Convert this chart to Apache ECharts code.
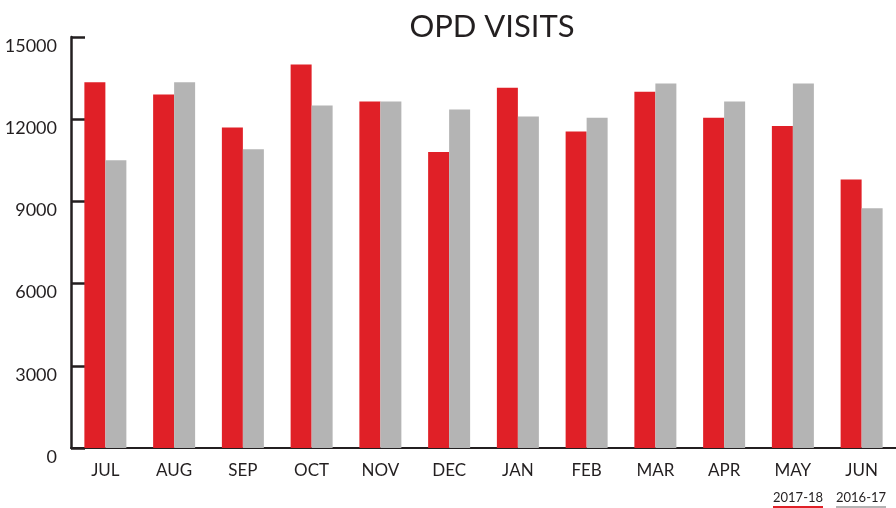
<!DOCTYPE html>
<html>
<head>
<meta charset="utf-8">
<script src="https://cdn.jsdelivr.net/npm/echarts@6/dist/echarts.min.js"></script>
<style>
  html, body { margin: 0; padding: 0; background: #fff; }
  #chart { width: 896px; height: 508px; }
</style>
</head>
<body>
<div id="chart"></div>
<script>
const months = ['JUL', 'AUG', 'SEP', 'OCT', 'NOV', 'DEC', 'JAN', 'FEB', 'MAR', 'APR', 'MAY', 'JUN']
const visits2017 = [13350, 12900, 11700, 14000, 12650, 10800, 13150, 11550, 13000, 12050, 11750, 9800]
const visits2016 = [10500, 13350, 10900, 12500, 12650, 12350, 12100, 12050, 13300, 12650, 13300, 8750]
const seriesNames = ['2017-18', '2016-17']
const colors = ['#e02027', '#b4b4b4']

const axisColor = '#231f20'
const font = 'Lato, "Open Sans", sans-serif'

const chart = echarts.init(document.getElementById('chart'))

const option = {
  backgroundColor: '#fff',
  animation: false,
  title: {
    text: 'OPD VISITS',
    left: 487,
    top: 6,
    textAlign: 'center',
    textStyle: { fontFamily: font, fontSize: 31, fontWeight: 'normal', color: axisColor }
  },
  grid: { left: 71, right: 0, top: 37, bottom: 60 },
  xAxis: {
    type: 'category',
    data: months,
    axisLine: { lineStyle: { color: axisColor, width: 2 } },
    axisTick: { inside: true, length: 10, lineStyle: { color: axisColor, width: 2 } },
    axisLabel: { margin: 14, fontFamily: font, fontSize: 17, color: axisColor }
  },
  yAxis: {
    type: 'value',
    min: 0,
    max: 15000,
    interval: 3000,
    axisLine: { show: true, lineStyle: { color: axisColor, width: 2.5 } },
    axisTick: { show: true, inside: true, length: 14, lineStyle: { color: axisColor, width: 2.5 } },
    axisLabel: {
      margin: 14,
      verticalAlign: 'top',
      formatter: v => String(v),
      fontFamily: font,
      fontSize: 18,
      color: axisColor
    },
    splitLine: { show: false }
  },
  series: [
    {
      name: seriesNames[0],
      type: 'bar',
      data: visits2017,
      barWidth: 21,
      barGap: '0%',
      itemStyle: { color: colors[0] }
    },
    {
      name: seriesNames[1],
      type: 'bar',
      data: visits2016,
      barWidth: 21,
      itemStyle: { color: colors[1] }
    }
  ],
  // legend: text with a coloured underline
  graphic: seriesNames.flatMap((name, i) => [
    {
      type: 'text',
      left: 773 + i * 63,
      top: 491,
      style: { text: name, fontFamily: font, fontSize: 13, fill: axisColor }
    },
    {
      type: 'rect',
      left: 773 + i * 63,
      top: 506,
      shape: { width: 50, height: 2 },
      style: { fill: colors[i] }
    }
  ])
}

chart.setOption(option)
</script>
</body>
</html>
